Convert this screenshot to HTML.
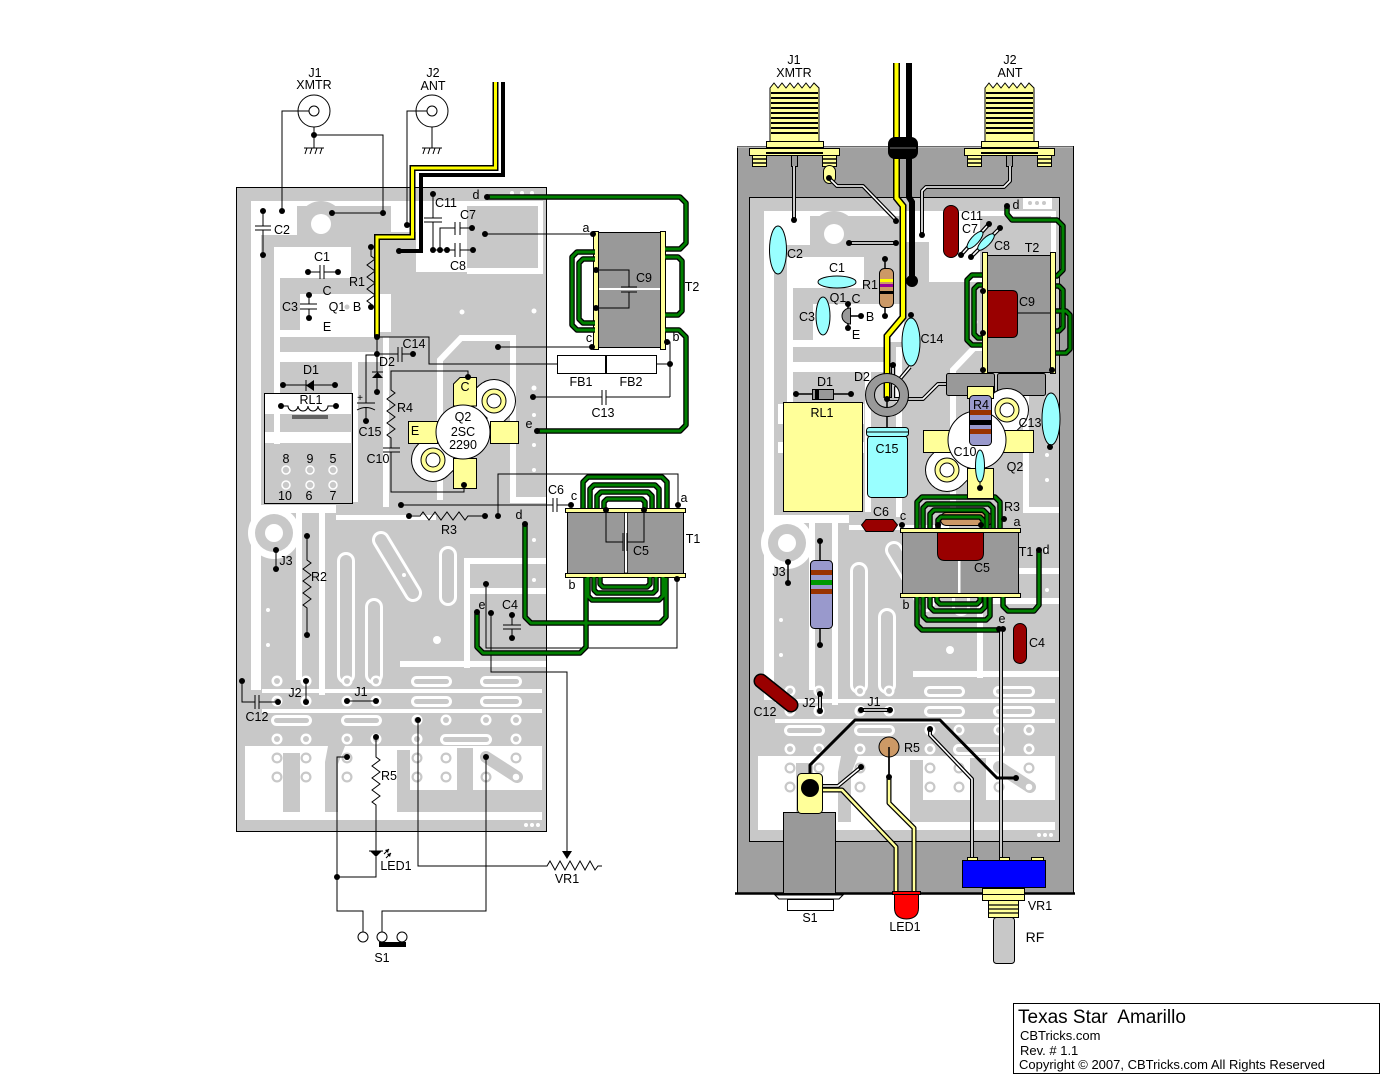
<!DOCTYPE html>
<html><head><meta charset="utf-8"><style>
html,body{margin:0;padding:0;background:#fff;}
svg{display:block;}
text{font-family:"Liberation Sans",Arial,sans-serif;font-size:12.5px;fill:#000;stroke:none;}
.m{text-anchor:middle;}
</style></head><body>
<svg width="1400" height="1090" viewBox="0 0 1400 1090" xmlns="http://www.w3.org/2000/svg" xmlns:xlink="http://www.w3.org/1999/xlink">
<defs>
<g id="pw"><circle r="5.5" fill="#fff"/><circle r="3" fill="#c8c8c8"/></g>
<g id="pg"><circle r="5.5" fill="#c8c8c8"/><circle r="3.3" fill="#fff"/></g>
<g id="pcb">
<rect x="236.5" y="187.5" width="310" height="644" fill="#c8c8c8"/>
<g fill="#fff">
<rect x="251" y="201" width="292" height="5"/>
<rect x="251" y="201" width="46" height="34"/>
<rect x="251" y="235" width="10" height="455"/>
<rect x="274" y="247" width="77" height="31"/>
<rect x="274" y="278" width="6" height="166"/>
<rect x="300" y="294" width="91" height="38"/>
<rect x="391" y="205" width="25" height="27"/>
<rect x="416" y="206" width="51" height="66"/>
<rect x="467" y="268" width="76" height="6"/>
<rect x="538" y="206" width="5" height="68"/>
<rect x="280" y="330" width="95" height="7"/>
<rect x="280" y="352" width="100" height="10"/>
<rect x="265" y="394" width="86" height="20"/>
<rect x="265" y="432" width="86" height="11"/>
<rect x="352" y="362" width="6" height="140"/>
<rect x="383" y="337" width="6" height="170"/>
<rect x="261" y="505" width="75" height="8"/>
<rect x="296" y="513" width="6" height="167"/>
<rect x="319" y="505" width="6" height="190"/>
<rect x="336" y="515" width="100" height="5"/>
<rect x="464" y="558" width="82" height="6"/>
<rect x="464" y="558" width="6" height="110"/>
<rect x="470" y="588" width="76" height="6"/>
<rect x="400" y="661" width="146" height="6"/>
<rect x="262" y="689" width="280" height="4"/>
<rect x="262" y="709" width="280" height="4"/>
<rect x="245" y="746" width="297" height="74"/>
</g>
<path d="M440,500 V360 L461,338 H513 V500 H546" fill="none" stroke="#fff" stroke-width="6"/>
<circle cx="321" cy="224" r="23" fill="#c8c8c8"/>
<circle cx="321" cy="224" r="10" fill="#fff"/>
<circle cx="274" cy="533" r="26" fill="#fff"/>
<circle cx="274" cy="533" r="19" fill="#c8c8c8"/>
<circle cx="274" cy="533" r="9" fill="#fff"/>
<g fill="#fff"><rect x="337" y="552" width="18" height="132" rx="9"/><rect x="365" y="598" width="18" height="86" rx="9"/><rect x="439" y="546" width="18" height="60" rx="9"/></g>
<g fill="#c8c8c8"><rect x="340" y="555" width="12" height="126" rx="6"/><rect x="368" y="601" width="12" height="80" rx="6"/><rect x="442" y="549" width="12" height="54" rx="6"/></g>
<line x1="381" y1="540" x2="413" y2="593" stroke="#fff" stroke-width="18" stroke-linecap="round"/>
<line x1="381" y1="540" x2="413" y2="593" stroke="#c8c8c8" stroke-width="12" stroke-linecap="round"/>
<g fill="#c8c8c8">
<rect x="283" y="753" width="17" height="59"/>
<polygon points="328,746 345,746 338,764 338,812 325,812 325,762"/>
<rect x="397" y="750" width="13" height="62"/>
<rect x="410" y="790" width="132" height="22"/>
<rect x="457" y="748" width="16" height="42"/>
</g>
<line x1="486" y1="757" x2="517" y2="777" stroke="#c8c8c8" stroke-width="12" stroke-linecap="round"/>
<g fill="#fff">
<rect x="411" y="676" width="41" height="11" rx="5.5"/><rect x="480" y="676" width="42" height="11" rx="5.5"/>
<rect x="411" y="696" width="41" height="11" rx="5.5"/><rect x="480" y="696" width="42" height="11" rx="5.5"/>
<rect x="271" y="715" width="41" height="11" rx="5.5"/><rect x="341" y="715" width="41" height="11" rx="5.5"/>
<rect x="440" y="734" width="52" height="11" rx="5.5"/>
</g>
<g fill="#c8c8c8">
<rect x="414" y="679" width="35" height="5" rx="2.5"/><rect x="483" y="679" width="36" height="5" rx="2.5"/>
<rect x="414" y="699" width="35" height="5" rx="2.5"/><rect x="483" y="699" width="36" height="5" rx="2.5"/>
<rect x="274" y="718" width="35" height="5" rx="2.5"/><rect x="344" y="718" width="35" height="5" rx="2.5"/>
<rect x="443" y="737" width="46" height="5" rx="2.5"/>
</g>
<use xlink:href="#pw" x="277" y="681"/><use xlink:href="#pw" x="306" y="681"/><use xlink:href="#pw" x="347" y="681"/><use xlink:href="#pw" x="376" y="681"/>
<use xlink:href="#pw" x="277" y="701"/><use xlink:href="#pw" x="306" y="701"/><use xlink:href="#pw" x="347" y="701"/><use xlink:href="#pw" x="376" y="701"/>
<use xlink:href="#pw" x="417" y="720"/><use xlink:href="#pw" x="446" y="720"/><use xlink:href="#pw" x="486" y="720"/><use xlink:href="#pw" x="516" y="720"/>
<use xlink:href="#pw" x="277" y="739"/><use xlink:href="#pw" x="306" y="739"/><use xlink:href="#pw" x="347" y="739"/><use xlink:href="#pw" x="376" y="739"/><use xlink:href="#pw" x="417" y="739"/><use xlink:href="#pw" x="516" y="739"/>
<use xlink:href="#pg" x="277" y="758"/><use xlink:href="#pg" x="306" y="758"/><use xlink:href="#pg" x="347" y="758"/><use xlink:href="#pg" x="417" y="758"/><use xlink:href="#pg" x="446" y="758"/><use xlink:href="#pg" x="516" y="758"/>
<use xlink:href="#pg" x="277" y="777"/><use xlink:href="#pg" x="306" y="777"/><use xlink:href="#pg" x="347" y="777"/><use xlink:href="#pg" x="417" y="777"/><use xlink:href="#pg" x="446" y="777"/><use xlink:href="#pg" x="486" y="777"/><use xlink:href="#pg" x="516" y="777"/>
<g fill="#fff">
<circle cx="462" cy="312" r="2.5"/><circle cx="534" cy="311" r="2.5"/><circle cx="534" cy="388" r="2.5"/><circle cx="534" cy="415" r="2"/><circle cx="534" cy="445" r="2"/><circle cx="534" cy="470" r="2"/><circle cx="534" cy="540" r="2"/><circle cx="534" cy="580" r="2"/>
<circle cx="512" cy="193" r="2"/><circle cx="522" cy="193" r="2"/><circle cx="532" cy="193" r="2"/>
<circle cx="526" cy="825" r="2"/><circle cx="532" cy="825" r="2"/><circle cx="538" cy="825" r="2"/>
<circle cx="268" cy="610" r="2"/><circle cx="268" cy="645" r="2"/><circle cx="404" cy="575" r="2"/><circle cx="437" cy="640" r="4"/>
</g>
<g fill="none" stroke="#fff" stroke-width="1.5">
<circle cx="286" cy="470" r="4"/><circle cx="310" cy="470" r="4"/><circle cx="333" cy="470" r="4"/>
<circle cx="286" cy="485" r="4"/><circle cx="310" cy="485" r="4"/><circle cx="333" cy="485" r="4"/>
</g>
<rect x="236.5" y="187.5" width="310" height="644" fill="none" stroke="#000"/>
</g>
</defs>

<!-- ================= LEFT SCHEMATIC ================= -->
<use xlink:href="#pcb"/>

<g stroke="#000" stroke-width="1" fill="none">
<circle cx="314" cy="111" r="16" fill="#fff"/><circle cx="314" cy="111" r="5" fill="#fff"/>
<path d="M309,111 H282 V211"/>
<path d="M314,127 V148"/>
<path d="M314,135 H383 V213 M332,213 H383"/>
<path d="M304,148 H324 M307,148 l-2,6 M312,148 l-2,6 M317,148 l-2,6 M322,148 l-2,6"/>
<circle cx="432" cy="111" r="16" fill="#fff"/><circle cx="432" cy="111" r="5" fill="#fff"/>
<path d="M427,111 H407 V225"/>
<path d="M432,127 V148"/>
<path d="M422,148 H442 M425,148 l-2,6 M430,148 l-2,6 M435,148 l-2,6 M440,148 l-2,6"/>
<path d="M263,211 V226 M255,226 H271 M255,230 H271 M263,230 V255"/>
<path d="M308,272 H320 M320,265 V279 M324,265 V279 M324,272 H338"/>
<path d="M309,295 V304 M300,304 H317 M300,309 H317 M309,309 V318"/>
<path d="M371,247 V256 l4,3 l-8,6 l8,6 l-8,6 l8,6 l-8,6 l8,6 l-8,6 l4,3 V307"/>
<path d="M433,194 V218 M424,218 H442 M424,222 H442 M433,222 V250"/>
<path d="M433,250 H447 M440,250 V228 H455 M455,222 V235 M460,222 V235 M460,228 H472"/>
<path d="M447,250 H455 M455,243 V257 M460,243 V257 M460,250 H473"/>
<path d="M485,234 H593"/>
<path d="M377,337 H429 V364 H670 M667,342 H670 V397"/>
<path d="M498,347 H592"/>
<path d="M377,337 V372 M372,372 H383 M377,378 V392 M377,354 H398 M398,347 V362 M402,347 V362 M402,354 H413"/>
<path d="M377,355 H366 V403 M357,403 H375 M357,410 Q366,405 375,410 M366,408 V421"/>
<path d="M468,377 V371 H391 V390 l4,3 l-8,6 l8,6 l-8,6 l8,6 l-8,6 l8,6 l-8,6 l4,3 V448 M383,448 H400 M383,452 H400 M391,452 V492 H464 V485"/>
<path d="M283,385 H335 M306,380 V391"/>
<rect x="264.5" y="393.5" width="88" height="110"/>
<path d="M281,406 H288 a5,5 0 0 0 10,0 a5,5 0 0 0 10,0 a5,5 0 0 0 10,0 a5,5 0 0 0 10,0 H336"/>
<path d="M292,416 H328 M292,418 H328"/>
<path d="M533,397 H602 M602,390 V405 M606,390 V405 M606,397 H670"/>
<rect x="557.5" y="355.5" width="48" height="18" fill="#fff"/><rect x="606.5" y="355.5" width="50" height="18" fill="#fff"/>
<path d="M401,505 H553 M553,498 V512 M557,498 V512 M557,505 H571"/>
<path d="M498,516 V474 H678 V505"/>
<path d="M409,516 H420 l3,-4 l6,8 l6,-8 l6,8 l6,-8 l6,8 l6,-8 l6,8 l3,-4 H485"/>
<path d="M486,584 V648 H677 V579"/>
<path d="M491,613 V672 H567 V852"/>
<path d="M512,615 V625 M503,625 H521 M503,629 H521 M512,629 V638"/>
<path d="M276,550 V569"/>
<path d="M307,536 V560 l4,3 l-8,6 l8,6 l-8,6 l8,6 l-8,6 l8,6 l-8,6 l4,3 V635"/>
<path d="M242,681 V702 H255 M255,695 V709 M259,695 V709 M259,702 H278"/>
<path d="M306,681 V702"/>
<path d="M347,701 H376"/>
<path d="M376,737 V757 l4,3 l-8,6 l8,6 l-8,6 l8,6 l-8,6 l8,6 l-8,6 l4,3 V851"/>
<path d="M369,851 H383 M376,857 V877 H337 M347,757 H337 V911 H363 V932"/>
<path d="M384,854 l5,-5 M386,858 l5,-5"/>
<path d="M486,757 V911 H382 V932"/>
<circle cx="363" cy="937" r="5" fill="#fff"/><circle cx="382" cy="937" r="5" fill="#fff"/><circle cx="402" cy="937" r="5" fill="#fff"/>
<path d="M418,720 V866 H547 l3,-5 l5,9 l5,-9 l5,9 l5,-9 l5,9 l5,-9 l5,9 l5,-9 l5,9 l3,-4 H602"/>
</g>
<g fill="#000">
<polygon points="314,380 314,391 306,385.5"/>
<polygon points="372,378 383,378 377.5,372"/>
<polygon points="370,851 382,851 376,857"/>
<polygon points="389,849 385,850 388,853"/><polygon points="391,853 387,854 390,857"/>
<polygon points="562,851 572,851 567,859"/>
<rect x="379" y="942" width="27" height="5"/>
</g>
<circle cx="347" cy="307" r="3" fill="#c8c8c8" stroke="#fff"/>

<!-- T2 left -->
<rect x="597.5" y="232.5" width="66" height="115" fill="#999" stroke="#000"/>
<line x1="598" y1="289" x2="662" y2="289" stroke="#fff" stroke-width="2"/>
<rect x="593.5" y="231.5" width="5" height="118" fill="#ffff99" stroke="#000"/>
<rect x="660.5" y="231.5" width="5" height="118" fill="#ffff99" stroke="#000"/>
<path d="M596,270 H629 V287 M621,287 H637 M621,292 H637 M629,292 V308 H596" stroke="#000" fill="none"/>

<!-- Q2 left -->
<line x1="433" y1="460" x2="494" y2="401" stroke="#000" stroke-width="44" stroke-linecap="round"/>
<line x1="433" y1="460" x2="494" y2="401" stroke="#fff" stroke-width="42" stroke-linecap="round"/>
<g fill="#ffff99" stroke="#000">
<polygon points="460,377.5 476.5,377.5 476.5,406 453.5,406 453.5,384"/>
<rect x="453.5" y="458.5" width="23" height="30"/>
<rect x="408.5" y="421.5" width="29" height="22"/>
<rect x="490.5" y="421.5" width="28" height="22"/>
<circle cx="494" cy="401" r="12"/><circle cx="433" cy="460" r="12"/>
</g>
<circle cx="494" cy="401" r="7" fill="#fff" stroke="#000"/><circle cx="433" cy="460" r="7" fill="#fff" stroke="#000"/>
<line x1="479" y1="411" x2="487" y2="419" stroke="#000" stroke-width="2.5"/>
<line x1="440" y1="445" x2="448" y2="453" stroke="#000" stroke-width="2.5"/>
<circle cx="463" cy="432" r="27" fill="#fff" stroke="#000"/>
<path d="M464,485 V492" stroke="#000"/>

<!-- T1 left -->
<rect x="567.5" y="512.5" width="116" height="61" fill="#999" stroke="#000"/>
<rect x="624.5" y="512" width="3" height="61" fill="#fff" stroke="#000" stroke-width="0.8"/>
<rect x="565.5" y="508.5" width="120" height="4" fill="#ffff99" stroke="#000"/>
<rect x="565.5" y="573.5" width="120" height="4" fill="#ffff99" stroke="#000"/>
<path d="M606,510 V542 H623 M623,533 V551 M627,533 V551 M627,542 H644 V510" stroke="#000" fill="none"/>

<!-- green wires left -->
<g fill="none" stroke-linejoin="round">
<g stroke="#000" stroke-width="5.5">
<path d="M487,197 H680 L686,203 V243 L680,249 H665"/>
<path d="M665,257 H678 L682,261 V311 L678,315 H665"/>
<path d="M665,330 H679 L686,337 V425 L680,431 H537"/>
<path d="M595,252 H577 L572,257 V325 L577,330 H595"/>
<path d="M595,259 H583 L579,263 V319 L583,323 H595"/>
<path d="M583,508 V482 L588,477 H662 L667,482 V508"/>
<path d="M590,508 V489 L594,485 H655 L659,489 V508"/>
<path d="M597,508 V496 L601,492 H648 L652,496 V508"/>
<path d="M604,508 V502 L607,499 H642 L645,502 V508"/>
<path d="M588,577 V596 L592,600 H659 L663,596 V577"/>
<path d="M594,577 V590 L597,593 H653 L656,590 V577"/>
<path d="M600,577 V584 L603,587 H647 L650,584 V577"/>
<path d="M525,524 V617 L531,623 H660 L666,617 V578"/>
<path d="M477,612 V647 L483,653 H580 L586,647 V578"/>
</g>
<g stroke="#008000" stroke-width="3">
<path d="M487,197 H680 L686,203 V243 L680,249 H665"/>
<path d="M665,257 H678 L682,261 V311 L678,315 H665"/>
<path d="M665,330 H679 L686,337 V425 L680,431 H537"/>
<path d="M595,252 H577 L572,257 V325 L577,330 H595"/>
<path d="M595,259 H583 L579,263 V319 L583,323 H595"/>
<path d="M583,508 V482 L588,477 H662 L667,482 V508"/>
<path d="M590,508 V489 L594,485 H655 L659,489 V508"/>
<path d="M597,508 V496 L601,492 H648 L652,496 V508"/>
<path d="M604,508 V502 L607,499 H642 L645,502 V508"/>
<path d="M588,577 V596 L592,600 H659 L663,596 V577"/>
<path d="M594,577 V590 L597,593 H653 L656,590 V577"/>
<path d="M600,577 V584 L603,587 H647 L650,584 V577"/>
<path d="M525,524 V617 L531,623 H660 L666,617 V578"/>
<path d="M477,612 V647 L483,653 H580 L586,647 V578"/>
</g>
</g>

<!-- coax left -->
<path d="M503,82 V175 H421 V251 H399" fill="none" stroke="#000" stroke-width="4"/>
<path d="M495.5,82 V168 H412.5 V237 H377 V337" fill="none" stroke="#000" stroke-width="6"/>
<path d="M495.5,82 V168 H412.5 V237 H377 V337" fill="none" stroke="#ffff00" stroke-width="3"/>

<!-- dots left -->
<g fill="#000">
<circle cx="282" cy="211" r="3"/><circle cx="263" cy="211" r="3"/><circle cx="263" cy="255" r="3"/><circle cx="332" cy="213" r="3"/><circle cx="383" cy="213" r="3"/><circle cx="407" cy="225" r="3"/><circle cx="399" cy="251" r="3"/>
<circle cx="433" cy="194" r="3"/><circle cx="433" cy="250" r="3"/><circle cx="440" cy="250" r="3"/><circle cx="447" cy="250" r="3"/><circle cx="472" cy="228" r="3"/><circle cx="473" cy="250" r="3"/><circle cx="485" cy="234" r="3"/>
<circle cx="308" cy="272" r="3"/><circle cx="338" cy="272" r="3"/><circle cx="309" cy="295" r="3"/><circle cx="309" cy="318" r="3"/><circle cx="371" cy="247" r="3"/><circle cx="371" cy="307" r="3"/>
<circle cx="377" cy="337" r="3"/><circle cx="377" cy="354" r="3"/><circle cx="413" cy="354" r="3"/><circle cx="377" cy="392" r="3"/><circle cx="366" cy="421" r="3"/><circle cx="468" cy="377" r="3"/><circle cx="464" cy="485" r="3"/>
<circle cx="283" cy="385" r="3"/><circle cx="335" cy="385" r="3"/><circle cx="281" cy="406" r="3"/><circle cx="336" cy="406" r="3"/>
<circle cx="498" cy="347" r="3"/><circle cx="593" cy="234" r="3"/><circle cx="592" cy="347" r="3"/><circle cx="667" cy="342" r="3"/><circle cx="670" cy="364" r="3"/><circle cx="596" cy="270" r="3"/><circle cx="596" cy="308" r="3"/>
<circle cx="533" cy="397" r="3"/><circle cx="537" cy="431" r="3"/><circle cx="487" cy="197" r="3"/>
<circle cx="401" cy="505" r="3"/><circle cx="409" cy="516" r="3"/><circle cx="485" cy="516" r="3"/><circle cx="498" cy="516" r="3"/><circle cx="571" cy="505" r="3"/><circle cx="678" cy="505" r="3"/><circle cx="606" cy="510" r="3"/><circle cx="644" cy="510" r="3"/>
<circle cx="525" cy="524" r="3"/><circle cx="677" cy="579" r="3"/><circle cx="486" cy="584" r="3"/><circle cx="477" cy="612" r="3"/><circle cx="491" cy="613" r="3"/><circle cx="512" cy="615" r="3"/><circle cx="512" cy="638" r="3"/>
<circle cx="276" cy="550" r="3"/><circle cx="276" cy="569" r="3"/><circle cx="307" cy="536" r="3"/><circle cx="307" cy="635" r="3"/>
<circle cx="242" cy="681" r="3"/><circle cx="278" cy="702" r="3"/><circle cx="306" cy="681" r="3"/><circle cx="306" cy="702" r="3"/><circle cx="347" cy="701" r="3"/><circle cx="376" cy="701" r="3"/>
<circle cx="418" cy="720" r="3"/><circle cx="376" cy="737" r="3"/><circle cx="347" cy="757" r="3"/><circle cx="486" cy="757" r="3"/><circle cx="337" cy="877" r="3"/><circle cx="314" cy="135" r="3"/>
</g>

<!-- left labels -->
<text class="m" x="315" y="77">J1</text><text class="m" x="314" y="89">XMTR</text>
<text class="m" x="433" y="77">J2</text><text class="m" x="433" y="90">ANT</text>
<text class="m" x="282" y="234">C2</text><text class="m" x="322" y="261">C1</text><text class="m" x="290" y="311">C3</text>
<text class="m" x="327" y="295">C</text><text class="m" x="337" y="311">Q1</text><text class="m" x="357" y="311">B</text><text class="m" x="327" y="331">E</text>
<text class="m" x="357" y="286">R1</text><text class="m" x="446" y="207">C11</text><text class="m" x="468" y="219">C7</text><text class="m" x="458" y="270">C8</text>
<text class="m" x="476" y="199">d</text><text class="m" x="586" y="232">a</text><text class="m" x="644" y="282">C9</text><text class="m" x="692" y="291">T2</text>
<text class="m" x="589" y="342">c</text><text class="m" x="676" y="341">b</text><text class="m" x="414" y="348">C14</text><text class="m" x="387" y="366">D2</text>
<text class="m" x="581" y="386">FB1</text><text class="m" x="631" y="386">FB2</text>
<text class="m" x="311" y="374">D1</text><text class="m" x="311" y="404">RL1</text><text class="m" x="370" y="436">C15</text><text class="m" x="360" y="401" style="font-size:10px">+</text>
<text class="m" x="405" y="412">R4</text><text class="m" x="378" y="463">C10</text><text class="m" x="603" y="417">C13</text><text class="m" x="529" y="428">e</text>
<text class="m" x="463" y="421">Q2</text><text class="m" x="463" y="436">2SC</text><text class="m" x="463" y="449">2290</text>
<text class="m" x="415" y="435">E</text><text class="m" x="465" y="391">C</text>
<text class="m" x="286" y="463">8</text><text class="m" x="310" y="463">9</text><text class="m" x="333" y="463">5</text>
<text class="m" x="285" y="500">10</text><text class="m" x="309" y="500">6</text><text class="m" x="333" y="500">7</text>
<text class="m" x="556" y="494">C6</text><text class="m" x="574" y="500">c</text><text class="m" x="684" y="502">a</text><text class="m" x="693" y="543">T1</text>
<text class="m" x="641" y="555">C5</text><text class="m" x="572" y="589">b</text><text class="m" x="519" y="519">d</text><text class="m" x="449" y="534">R3</text>
<text class="m" x="286" y="565">J3</text><text class="m" x="319" y="581">R2</text><text class="m" x="482" y="609">e</text><text class="m" x="510" y="609">C4</text>
<text class="m" x="257" y="721">C12</text><text class="m" x="295" y="697">J2</text><text class="m" x="361" y="696">J1</text><text class="m" x="389" y="780">R5</text>
<text class="m" x="396" y="870">LED1</text><text class="m" x="567" y="883">VR1</text><text class="m" x="382" y="962">S1</text>

<!-- ================= RIGHT (chassis view) ================= -->
<rect x="737.5" y="146.5" width="336" height="747" fill="#a0a0a0" stroke="#000"/>
<line x1="737" y1="147" x2="1073" y2="147" stroke="#d0d0d0" stroke-width="1"/>
<use xlink:href="#pcb" transform="translate(513,10)"/>
<line x1="735" y1="893.5" x2="1075" y2="893.5" stroke="#000" stroke-width="2.5"/>

<!-- connectors -->
<g id="conn">
<polygon points="770,88 774,83 778,88 782,83 786,88 790,83 794,88 798,83 802,88 806,83 810,88 814,83 819,88 819,142 770,142" fill="#ffff99" stroke="#000"/>
<g stroke="#000" stroke-width="2">
<line x1="771" y1="93" x2="818" y2="93"/><line x1="771" y1="98" x2="818" y2="98"/><line x1="771" y1="103" x2="818" y2="103"/><line x1="771" y1="108" x2="818" y2="108"/><line x1="771" y1="113" x2="818" y2="113"/><line x1="771" y1="118" x2="818" y2="118"/><line x1="771" y1="123" x2="818" y2="123"/><line x1="771" y1="128" x2="818" y2="128"/><line x1="771" y1="133" x2="818" y2="133"/>
</g>
<rect x="766.5" y="141.5" width="57" height="6" fill="#ffff99" stroke="#000"/>
<rect x="749.5" y="148.5" width="90" height="7" fill="#ffff99" stroke="#000"/>
<rect x="766" y="152" width="57" height="2" fill="#000"/>
<rect x="752.5" y="155.5" width="14" height="11" fill="#ffff99" stroke="#000"/>
<rect x="822.5" y="155.5" width="14" height="11" fill="#ffff99" stroke="#000"/>
<path d="M753,159 H766 M753,163 H766 M823,159 H836 M823,163 H836" stroke="#000" stroke-width="1.5"/>
<rect x="791.5" y="155.5" width="6" height="11" fill="#999" stroke="#000"/>
</g>
<use xlink:href="#conn" transform="translate(215,0)"/>
<rect x="823.5" y="165.5" width="12" height="18" rx="6" fill="#ffff99" stroke="#000"/>

<!-- white double wires -->
<g fill="none" stroke-linejoin="round">
<g stroke="#000" stroke-width="4">
<path d="M794,166 V220"/><path d="M829,178 L837,186 H863 L896,220"/><path d="M849,243 H896"/>
<path d="M1010,166 V181 L1004,187 H926 L922,191 V235"/>
<path d="M887,399 H923 L938,384 H946"/><path d="M910,367 L894,386"/><path d="M893,365 V398"/>
<path d="M861,710 H890"/><path d="M820,694 V711"/>
<path d="M822,786 H838 L861,767"/>
<path d="M930,729 V735 L972,779 V860"/><path d="M1001,629 V860"/>
<path d="M961,255 L989,224"/><path d="M971,257 L1000,228"/>
</g>
<g stroke="#fff" stroke-width="1.6">
<path d="M794,166 V220"/><path d="M829,178 L837,186 H863 L896,220"/><path d="M849,243 H896"/>
<path d="M1010,166 V181 L1004,187 H926 L922,191 V235"/>
<path d="M887,399 H923 L938,384 H946"/><path d="M910,367 L894,386"/><path d="M893,365 V398"/>
<path d="M861,710 H890"/><path d="M820,694 V711"/>
<path d="M822,786 H838 L861,767"/>
<path d="M930,729 V735 L972,779 V860"/><path d="M1001,629 V860"/>
<path d="M961,255 L989,224"/><path d="M971,257 L1000,228"/>
</g>
<g stroke="#000" stroke-width="5"><path d="M889,777 V803 L914,828 V892"/><path d="M822,790 H842 L896,847 V892"/></g>
<g stroke="#ffff99" stroke-width="2.5"><path d="M889,777 V803 L914,828 V892"/><path d="M822,790 H842 L896,847 V892"/></g>
<path d="M788,562 V583 M820,541 V645 M889,757 V777 M885,259 V316 M796,394 H851 M887,399 V428 M848,304 V328 M848,316 H861" stroke="#000" stroke-width="1.5"/>
<path d="M810,788 V765 L855,720 H940 L997,778 H1016" stroke="#000" stroke-width="3"/>
</g>

<!-- coax right -->
<path d="M909,63 V197 L912,202 V281" fill="none" stroke="#000" stroke-width="6"/>
<path d="M896.5,63 V198 L903,206 V317 L887,336 V398" fill="none" stroke="#000" stroke-width="7"/>
<path d="M896.5,63 V198 L903,206 V317 L887,336 V398" fill="none" stroke="#ffff00" stroke-width="4"/>
<circle cx="912" cy="281" r="6" fill="#000"/>
<rect x="888" y="137" width="30" height="22" rx="7" fill="#000"/>
<line x1="890" y1="148" x2="916" y2="148" stroke="#777" stroke-width="1"/>

<!-- T1 right (under windings) -->
<rect x="940.5" y="512.5" width="52" height="13" rx="6" fill="#cc9966" stroke="#000"/>
<rect x="902.5" y="532.5" width="116" height="61" fill="#999" stroke="#000"/>
<rect x="958" y="533" width="2.5" height="60" fill="#fff"/>
<path d="M937.5,530.5 H983.5 V553 Q983.5,560.5 976,560.5 H945 Q937.5,560.5 937.5,553 Z" fill="#990000" stroke="#000"/>
<rect x="900.5" y="528.5" width="120" height="4" fill="#ffff99" stroke="#000"/>
<rect x="900.5" y="593.5" width="120" height="4" fill="#ffff99" stroke="#000"/>

<!-- green right -->
<g fill="none" stroke-linejoin="round">
<g stroke="#000" stroke-width="5.5">
<path d="M1007,206 V214 L1012,220 H1057 L1063,226 V270 L1057,276 H1052"/>
<path d="M983,275 H972 L967,280 V340 L972,345 H983"/>
<path d="M983,285 H978 L974,289 V334 L978,338 H983"/>
<path d="M1052,286 H1059 L1063,290 V327 L1059,331 H1052"/>
<path d="M1052,311 H1066 L1070,315 V349 L1066,353 H1052"/>
<path d="M917,528 V502 L922,497 H995 L1000,502 V528"/>
<path d="M923,528 V508 L927,504 H989 L993,508 V528"/>
<path d="M930,528 V514 L934,510 H983 L987,514 V528"/>
<path d="M938,528 V520 L941,517 H980 L983,520 V528"/>
<path d="M917,597 V625 L922,630 H999"/>
<path d="M923,597 V616 L927,620 H986 L990,616 V597"/>
<path d="M930,597 V607 L934,611 H981 L985,607 V597"/>
<path d="M937,597 V601 L940,604 H977 L980,601 V597"/>
<path d="M1039,550 V605 L1034,611 H1008 L1003,606 V597"/>
</g>
<g stroke="#008000" stroke-width="3">
<path d="M1007,206 V214 L1012,220 H1057 L1063,226 V270 L1057,276 H1052"/>
<path d="M983,275 H972 L967,280 V340 L972,345 H983"/>
<path d="M983,285 H978 L974,289 V334 L978,338 H983"/>
<path d="M1052,286 H1059 L1063,290 V327 L1059,331 H1052"/>
<path d="M1052,311 H1066 L1070,315 V349 L1066,353 H1052"/>
<path d="M917,528 V502 L922,497 H995 L1000,502 V528"/>
<path d="M923,528 V508 L927,504 H989 L993,508 V528"/>
<path d="M930,528 V514 L934,510 H983 L987,514 V528"/>
<path d="M938,528 V520 L941,517 H980 L983,520 V528"/>
<path d="M917,597 V625 L922,630 H999"/>
<path d="M923,597 V616 L927,620 H986 L990,616 V597"/>
<path d="M930,597 V607 L934,611 H981 L985,607 V597"/>
<path d="M937,597 V601 L940,604 H977 L980,601 V597"/>
<path d="M1039,550 V605 L1034,611 H1008 L1003,606 V597"/>
</g>
</g>
<rect x="1023" y="198" width="29" height="11" fill="#fff"/>
<circle cx="1030" cy="203" r="2" fill="#c8c8c8"/><circle cx="1037" cy="203" r="2" fill="#c8c8c8"/><circle cx="1044" cy="203" r="2" fill="#c8c8c8"/>

<!-- T2 right -->
<rect x="987.5" y="255.5" width="63" height="117" fill="#999" stroke="#000"/>
<line x1="988" y1="313" x2="1050" y2="313" stroke="#000"/>
<path d="M987.5,290.5 H1012 Q1017.5,290.5 1017.5,296 V332 Q1017.5,337.5 1012,337.5 H987.5 Z" fill="#990000" stroke="#000"/>
<rect x="982.5" y="252.5" width="5" height="121" fill="#ffff99" stroke="#000"/>
<rect x="1050.5" y="252.5" width="5" height="121" fill="#ffff99" stroke="#000"/>
<!-- FB right -->
<rect x="946.5" y="373.5" width="48" height="22" rx="2" fill="#999" stroke="#000"/>
<rect x="997.5" y="373.5" width="48" height="22" rx="2" fill="#999" stroke="#000"/>

<!-- Q2 right -->
<line x1="947" y1="470" x2="1007" y2="410" stroke="#000" stroke-width="44" stroke-linecap="round"/>
<line x1="947" y1="470" x2="1007" y2="410" stroke="#fff" stroke-width="42" stroke-linecap="round"/>
<g fill="#ffff99" stroke="#000">
<rect x="923.5" y="430.5" width="29" height="22"/>
<rect x="1003.5" y="430.5" width="30" height="22"/>
<circle cx="1007" cy="410" r="12"/><circle cx="947" cy="470" r="12"/>
</g>
<circle cx="1007" cy="410" r="7" fill="#fff" stroke="#000"/><circle cx="947" cy="470" r="7" fill="#fff" stroke="#000"/>
<line x1="993" y1="420" x2="1001" y2="428" stroke="#000" stroke-width="2.5"/>
<line x1="952" y1="452" x2="960" y2="460" stroke="#000" stroke-width="2.5"/>
<circle cx="977" cy="440" r="29" fill="#fff" stroke="#000"/>
<rect x="967.5" y="468.5" width="26" height="30" fill="#ffff99" stroke="#000"/>
<rect x="967.5" y="386.5" width="26" height="12" fill="#ffff99" stroke="#000"/>
<!-- R4 right -->
<rect x="969.5" y="395.5" width="22" height="50" rx="4" fill="#9999cc" stroke="#000"/>
<rect x="970" y="410" width="21" height="5" fill="#993300"/><rect x="970" y="420" width="21" height="5" fill="#000"/><rect x="970" y="429" width="21" height="5" fill="#993300"/>
<!-- C10 right -->
<line x1="980" y1="482" x2="980" y2="488" stroke="#000"/>
<ellipse cx="980" cy="466" rx="4.5" ry="16" fill="#99ffff" stroke="#000"/>

<!-- other components right -->
<rect x="783.5" y="402.5" width="79" height="109" fill="#ffff99" stroke="#000"/>
<rect x="867.5" y="435.5" width="40" height="62" rx="4" fill="#99ffff" stroke="#000"/>
<rect x="866.5" y="427.5" width="42" height="9" rx="3" fill="#99ffff" stroke="#000"/>
<line x1="867" y1="432" x2="908" y2="432" stroke="#000"/>
<circle cx="887" cy="395" r="17" fill="none" stroke="#000" stroke-width="10"/>
<circle cx="887" cy="395" r="17" fill="none" stroke="#999" stroke-width="8"/>
<rect x="812.5" y="389.5" width="21" height="10" fill="#999" stroke="#000"/>
<rect x="815" y="390" width="4" height="9" fill="#000"/>
<rect x="879.5" y="268.5" width="14" height="39" rx="5" fill="#cc9966" stroke="#000"/>
<rect x="880" y="279" width="13" height="3" fill="#ffff00"/><rect x="880" y="284" width="13" height="3" fill="#990099"/><rect x="880" y="291" width="13" height="3" fill="#000"/>
<path d="M850.5,308 A8.5,8 0 0 0 850.5,324 Z" fill="#999" stroke="#000"/>
<rect x="810.5" y="560.5" width="22" height="68" rx="4" fill="#9999cc" stroke="#000"/>
<rect x="811" y="570" width="21" height="5" fill="#993300"/><rect x="811" y="580" width="21" height="5" fill="#009900"/><rect x="811" y="589" width="21" height="5" fill="#993300"/>
<g fill="#99ffff" stroke="#000">
<ellipse cx="778" cy="250" rx="8.5" ry="24"/>
<ellipse cx="837" cy="282" rx="19" ry="6"/>
<ellipse cx="823" cy="316" rx="7" ry="19"/>
<ellipse cx="911" cy="342" rx="9" ry="24"/>
<ellipse cx="1051" cy="419" rx="9" ry="26"/>
<ellipse cx="975" cy="240" rx="11" ry="4" transform="rotate(-48 975 240)"/>
<ellipse cx="986" cy="242" rx="11" ry="4" transform="rotate(-45 986 242)"/>
</g>
<g fill="#990000" stroke="#000">
<rect x="943.5" y="205.5" width="15" height="52" rx="7.5"/>
<polygon points="866,519.5 893,519.5 897.5,525 893,531.5 866,531.5 861.5,525"/>
<rect x="1013.5" y="623.5" width="13" height="40" rx="6.5"/>
</g>
<line x1="761" y1="681" x2="791" y2="705" stroke="#000" stroke-width="15" stroke-linecap="round"/>
<line x1="761" y1="681" x2="791" y2="705" stroke="#990000" stroke-width="12" stroke-linecap="round"/>
<circle cx="889" cy="747" r="10" fill="#cc9966" stroke="#000"/>
<line x1="889" y1="747" x2="889" y2="777" stroke="#000" stroke-width="1.5"/>

<!-- S1 right -->
<rect x="783.5" y="812.5" width="52" height="81" fill="#999" stroke="#000"/>
<rect x="797.5" y="773.5" width="25" height="40" rx="4" fill="#ffff99" stroke="#000"/>
<circle cx="810" cy="788" r="9" fill="#000"/>
<path d="M775,895 H843 L839,899 H779 Z" fill="#fff" stroke="#000"/>
<rect x="787.5" y="899.5" width="46" height="11" fill="#fff" stroke="#000"/>
<!-- LED right -->
<path d="M894.5,894 H918.5 V908 Q918.5,918.5 906.5,919 Q894.5,918.5 894.5,908 Z" fill="#ff0000" stroke="#000"/>
<rect x="892.5" y="891.5" width="28" height="3" fill="#ff0000" stroke="#000"/>
<!-- VR1 right -->
<rect x="967.5" y="857.5" width="10" height="4" fill="#ffff99" stroke="#000"/>
<rect x="999.5" y="857.5" width="10" height="4" fill="#ffff99" stroke="#000"/>
<rect x="1031.5" y="857.5" width="12" height="4" fill="#ffff99" stroke="#000"/>
<rect x="962.5" y="860.5" width="83" height="27" fill="#0000ff" stroke="#000"/>
<rect x="993.5" y="917.5" width="21" height="46" rx="3" fill="#c8c8c8" stroke="#000"/>
<rect x="988.5" y="900.5" width="30" height="17" fill="#ffff99" stroke="#000"/>
<path d="M989,905 H1018 M989,909 H1018 M989,913 H1018" stroke="#000" stroke-width="1.2"/>
<rect x="982.5" y="888.5" width="42" height="6" fill="#ffff99" stroke="#000"/>
<rect x="982.5" y="894.5" width="42" height="6" fill="#ffff99" stroke="#000"/>

<!-- dots right -->
<g fill="#000">
<circle cx="794" cy="220" r="3"/><circle cx="829" cy="178" r="3"/><circle cx="896" cy="221" r="3"/><circle cx="849" cy="243" r="3"/><circle cx="896" cy="243" r="3"/><circle cx="922" cy="235" r="3"/>
<circle cx="885" cy="259" r="3"/><circle cx="885" cy="316" r="3"/><circle cx="848" cy="304" r="3"/><circle cx="861" cy="316" r="3"/><circle cx="848" cy="328" r="3"/>
<circle cx="911" cy="315" r="3"/><circle cx="893" cy="365" r="3"/><circle cx="887" cy="399" r="3"/><circle cx="796" cy="394" r="3"/><circle cx="851" cy="394" r="3"/>
<circle cx="961" cy="255" r="3"/><circle cx="989" cy="224" r="3"/><circle cx="971" cy="257" r="3"/><circle cx="1000" cy="228" r="3"/><circle cx="1007" cy="206" r="3"/>
<circle cx="983" cy="291" r="3"/><circle cx="983" cy="333" r="3"/><circle cx="983" cy="370" r="3"/><circle cx="1052" cy="370" r="3"/><circle cx="1050" cy="447" r="3"/><circle cx="980" cy="488" r="3"/>
<circle cx="902" cy="525" r="3"/><circle cx="1004" cy="519" r="3"/><circle cx="938" cy="525" r="3"/><circle cx="981" cy="525" r="3"/><circle cx="1039" cy="550" r="3"/>
<circle cx="999" cy="629" r="3"/><circle cx="1003" cy="629" r="3"/><circle cx="788" cy="562" r="3"/><circle cx="788" cy="583" r="3"/><circle cx="820" cy="541" r="3"/><circle cx="820" cy="645" r="3"/>
<circle cx="820" cy="694" r="3"/><circle cx="820" cy="711" r="3"/><circle cx="861" cy="710" r="3"/><circle cx="890" cy="710" r="3"/><circle cx="930" cy="729" r="3"/><circle cx="889" cy="777" r="3"/><circle cx="861" cy="767" r="3"/><circle cx="1016" cy="778" r="3"/>
</g>

<!-- right labels -->
<text class="m" x="794" y="64">J1</text><text class="m" x="794" y="77">XMTR</text>
<text class="m" x="1010" y="64">J2</text><text class="m" x="1010" y="77">ANT</text>
<text class="m" x="795" y="258">C2</text><text class="m" x="837" y="272">C1</text><text class="m" x="870" y="289">R1</text>
<text class="m" x="838" y="302">Q1</text><text class="m" x="856" y="303">C</text><text class="m" x="870" y="321">B</text><text class="m" x="807" y="321">C3</text><text class="m" x="856" y="339">E</text>
<text class="m" x="932" y="343">C14</text><text class="m" x="972" y="220">C11</text><text class="m" x="970" y="233">C7</text><text class="m" x="1002" y="250">C8</text>
<text class="m" x="1016" y="209">d</text><text class="m" x="1032" y="252">T2</text><text class="m" x="1027" y="306">C9</text>
<text class="m" x="862" y="381">D2</text><text class="m" x="825" y="386">D1</text><text class="m" x="822" y="417">RL1</text><text class="m" x="887" y="453">C15</text>
<text class="m" x="981" y="409">R4</text><text class="m" x="1030" y="427">C13</text><text class="m" x="965" y="456">C10</text><text class="m" x="1015" y="471">Q2</text>
<text class="m" x="881" y="516">C6</text><text class="m" x="903" y="520">c</text><text class="m" x="1012" y="511">R3</text><text class="m" x="1017" y="526">a</text>
<text class="m" x="1026" y="556">T1</text><text class="m" x="1046" y="554">d</text><text class="m" x="982" y="572">C5</text><text class="m" x="906" y="609">b</text>
<text class="m" x="1002" y="623">e</text><text class="m" x="1037" y="647">C4</text><text class="m" x="779" y="576">J3</text>
<text class="m" x="765" y="716">C12</text><text class="m" x="809" y="707">J2</text><text class="m" x="874" y="706">J1</text><text class="m" x="912" y="752">R5</text>
<text class="m" x="1040" y="910">VR1</text><text class="m" x="810" y="922">S1</text><text class="m" x="905" y="931">LED1</text>
<text class="m" x="1035" y="942" style="font-size:14px">RF</text>

<!-- title block -->
<rect x="1013.5" y="1003.5" width="366" height="70" fill="#fff" stroke="#000"/>
<text x="1018" y="1023" style="font-size:19px" xml:space="preserve">Texas Star  Amarillo</text>
<text x="1020" y="1040" style="font-size:13px">CBTricks.com</text>
<text x="1020" y="1055" style="font-size:13px">Rev. # 1.1</text>
<text x="1019" y="1069" style="font-size:13px">Copyright © 2007, CBTricks.com All Rights Reserved</text>
</svg>
</body></html>
